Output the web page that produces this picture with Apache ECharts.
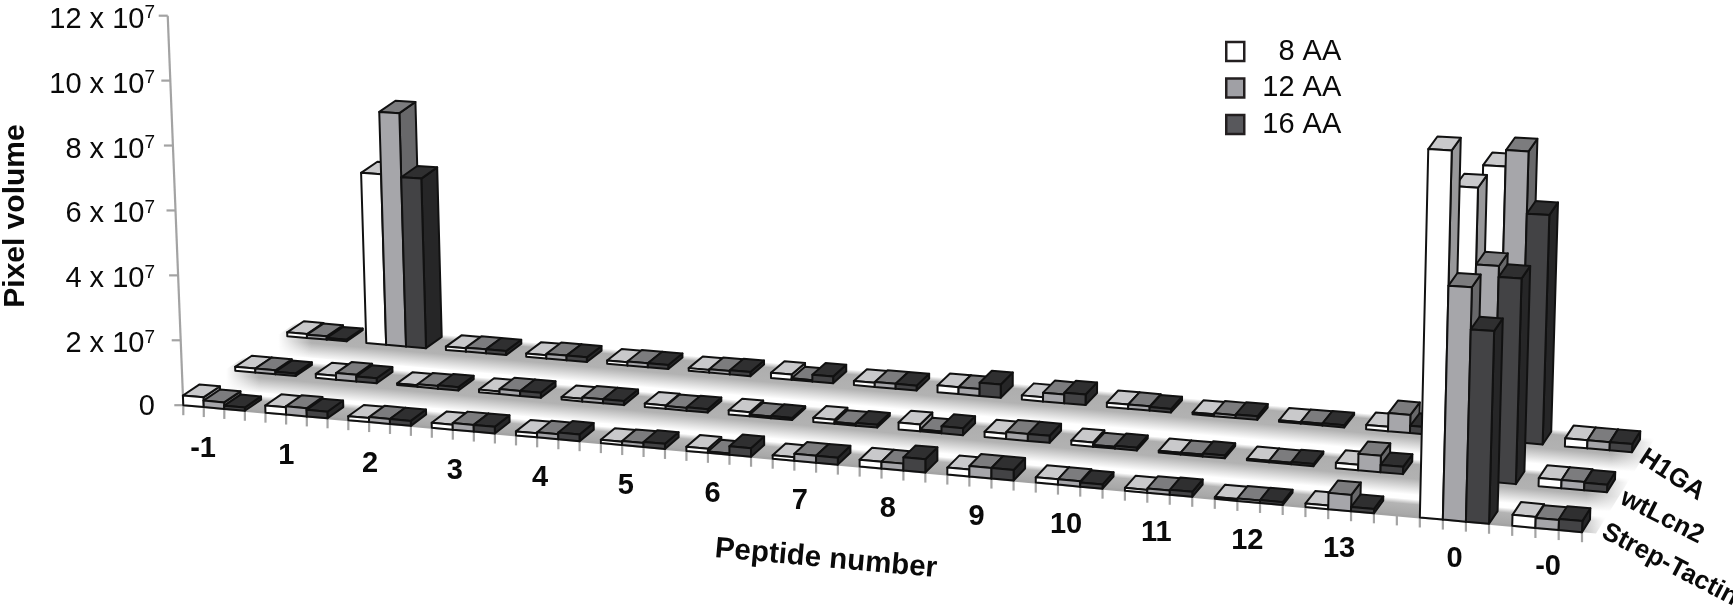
<!DOCTYPE html>
<html><head><meta charset="utf-8">
<style>html,body{margin:0;padding:0;background:#fff}#c{width:1733px;height:606px}</style>
<script src="https://cdn.jsdelivr.net/npm/echarts@6/dist/echarts.min.js"></script>
</head><body><div id="c"></div>
<script>
// ---- data (values in pixel volume, unit 1e7) ----
const categories = ['-1','1','2','3','4','5','6','7','8','9','10','11','12','13','0','-0'];
const rowNames = ['Strep-Tactin','wtLcn2','H1GA'];
const yTicks = [0,2,4,6,8,10,12];
const strep8  = [.30,.22,.12,.15,.12,.10,.12,.10,.20,.20,.15,.08,.05,.10,10.1,.30];
const strep12 = [.20,.25,.15,.20,.15,.12,.04,.20,.20,.30,.15,.12,.07,.45,6.4,.27];
const strep16 = [.10,.20,.15,.20,.20,.15,.25,.20,.38,.30,.12,.14,.08,.12,5.25,.30];
const wt8  = [.12,.12,.05,.08,.08,.10,.12,.12,.20,.15,.12,.05,.04,.15,8.0,.22];
const wt12 = [.12,.20,.08,.15,.12,.08,.05,.05,.05,.20,.05,.05,.04,.45,5.9,.22];
const wt16 = [.08,.15,.10,.15,.12,.10,.06,.08,.20,.20,.08,.08,.06,.20,5.6,.20];
const h18  = [.12,5.2,.10,.10,.10,.08,.15,.12,.20,.12,.12,.05,.04,.12,7.5,.22];
const h112 = [.10,7.1,.12,.14,.12,.10,.04,.14,.20,.25,.12,.08,.05,.50,7.95,.22];
const h116 = [.05,5.15,.12,.14,.12,.12,.20,.14,.38,.30,.10,.10,.06,.20,6.25,.22];
const aaNames = ['8 AA','12 AA','16 AA'];
const byAA = [[strep8,wt8,h18],[strep12,wt12,h112],[strep16,wt16,h116]];

// ---- styles ----
const FRONT=['#ffffff','#a6a6aa','#434345'], TOP=['#c9c9cb','#7c7c7e','#2f2f30'], SIDE=['#98989a','#68686a','#262627'];
const EDGE='#111111', AXIS='#a3a3a3', FONT='"Liberation Sans",Arial,sans-serif';
const R=1.068, BAR_D=0.32, SLOPE=0.0908, TMAX=64;
const catStart=i=>i*4+(i>13?1:0);
const persp=t=>{const u=t/TMAX;return TMAX*u/(u+(1-u)*R);};
function pt(api,t,d,v){
  const fx=persp(t),c0=api.coord([fx,0]),cv=api.coord([fx,v]),o=api.coord([0,0]);
  const g=fx/TMAX;
  let X=c0[0],Y=c0[1]+SLOPE*(X-o[0]);
  X+=d*(52-27*g);Y+=d*(-34.5-5.5*g);
  const h=(c0[1]-cv[1])*(1+.14*g),lean=-0.04+(X-o[0])*0.0000509;
  return [X+lean*h,Y-h];
}
const poly=(points,fill,z2,extra)=>({type:'polygon',z2,shape:{points},style:Object.assign({fill,stroke:EDGE,lineWidth:2,lineJoin:'round'},extra||{})});
const line=(a,b,z2,c,w)=>({type:'line',z2,shape:{x1:a[0],y1:a[1],x2:b[0],y2:b[1]},style:{stroke:c||AXIS,lineWidth:w||2.2}});
const txt=(text,x,y,z2,o)=>({type:'text',z2,x,y,rotation:(o&&o.rot)||0,style:Object.assign({text,fill:'#0a0a0a',font:'26px '+FONT,align:'center',verticalAlign:'middle'},o&&o.style||{})});

function barRender(aa){return function(p,api){
  const row=api.value(0),cat=api.value(1),v=api.value(2),t=catStart(cat)+aa;
  const z=(2-row)*10000+t*10+100;
  const A=pt(api,t,0+row,0),B=pt(api,t+1,row,0),C=pt(api,t+1,row,v),D=pt(api,t,row,v);
  const E=pt(api,t+1,row+BAR_D,v),F=pt(api,t,row+BAR_D,v),G=pt(api,t+1,row+BAR_D,0);
  return {type:'group',children:[
    poly([B,G,E,C],SIDE[aa],z),
    poly([D,C,E,F],TOP[aa],z+1),
    poly([A,B,C,D],FRONT[aa],z+2)
  ]};
};}
function frameRender(p,api){
  const ch=[];
  // floor shadow bands with soft ends
  [2,1,0].forEach(row=>{
    const top=row===0?.42:.38, bot=row===0?0:-.5, t0=row===0?0:-0.5, t1=64.6;
    const a=pt(api,t0,row+top,0),b=pt(api,t1,row+top,0),c=pt(api,t1,row+bot,0),d=pt(api,t0,row+bot,0);
    const m1=pt(api,30,row+top,0),m2=pt(api,30,row+bot,0);
    const s=(b[1]-a[1])/(b[0]-a[0]),nl=Math.hypot(s,1),nx=-s/nl,ny=1/nl;
    const L=(m2[0]-m1[0])*nx+(m2[1]-m1[1])*ny;
    const stops=row===0?[{offset:0,color:'#ffffff'},{offset:.3,color:'#b4b4b4'},{offset:1,color:'#a6a6a6'}]
      :[{offset:0,color:'#ffffff'},{offset:.14,color:'#aeaeae'},{offset:.55,color:'#b2b2b2'},{offset:1,color:'#ffffff'}];
    const base=(2-row)*10000;
    ch.push({type:'polygon',z2:base,shape:{points:[a,b,c,d]},
      style:{fill:new echarts.graphic.LinearGradient(m1[0],m1[1],m1[0]+nx*L,m1[1]+ny*L,stops,true)}});
    // soft fade at both ends of the band
    const fade=(xa,xb)=>new echarts.graphic.LinearGradient(xa,0,xb,0,[{offset:0,color:'rgba(255,255,255,1)'},{offset:1,color:'rgba(255,255,255,0)'}],true);
    const lx=Math.min(a[0],d[0]),rx=Math.max(a[0],d[0])+14;
    const bx=Math.min(b[0],c[0])-22,ex=Math.max(b[0],c[0]);
    if(row!==0) ch.push({type:'polygon',z2:base+1,shape:{points:[[lx-4,a[1]-6],[rx,a[1]-6],[rx,d[1]+6],[lx-4,d[1]+6]]},style:{fill:fade(lx+(rx-lx)*0.45,rx)}});
    ch.push({type:'polygon',z2:base+1,shape:{points:[[bx,b[1]-6],[ex+4,b[1]-6],[ex+4,c[1]+6],[bx,c[1]+6]]},style:{fill:fade(ex,bx)}});
  });
  // floor line and ticks
  ch.push(line(pt(api,0,0,0),pt(api,TMAX,0,0),20050));
  for(let t=0;t<=TMAX;t++){const a=pt(api,t,0,0);ch.push(line(a,[a[0],a[1]+10],20050));}
  // value axis
  ch.push(line(pt(api,0,0,0),pt(api,0,0,12e7),20050));
  yTicks.forEach(v=>{
    const a=pt(api,0,0,v*1e7);
    ch.push(line(a,[a[0]-9,a[1]],20050));
    const label=v===0?'{m|0}':'{m|'+v+' x 10}{s|7}';
    ch.push(txt(label,155,a[1]+(v===0?2:4),40000,{style:{align:'right',rich:{
      m:{font:'29px '+FONT,fill:'#0a0a0a'},
      s:{font:'19px '+FONT,fill:'#0a0a0a',padding:[0,0,13,0]}}}}));
  });
  // category labels
  categories.forEach((c,i)=>{
    const tc=catStart(i)+1.5,a=pt(api,tc,0,0),g=i/15;
    ch.push(txt(c,a[0]-11+12*g,a[1]+41-3*g,40000,{style:{font:'bold 29px '+FONT}}));
  });
  // titles
  ch.push(txt('Pixel volume',16,216,40000,{rot:Math.PI/2,style:{font:'bold 30px '+FONT}}));
  ch.push(txt('Peptide number',826,559,40000,{rot:-0.09,style:{font:'bold 29.5px '+FONT}}));
  const rowLab=[[1670,565,.48],[1662,517,.47],[1672,475,.58]];
  rowNames.forEach((n,i)=>ch.push(txt(n,rowLab[i][0],rowLab[i][1],40000,{rot:-rowLab[i][2],style:{font:'bold 26px '+FONT}})));
  return {type:'group',children:ch};
}
const series=[{type:'custom',name:'frame',coordinateSystem:'cartesian2d',silent:true,animation:false,data:[[0,0]],renderItem:frameRender}];
aaNames.forEach((n,aa)=>{
  const data=[];
  byAA[aa].forEach((vals,row)=>vals.forEach((v,cat)=>data.push([row,cat,v*1e7])));
  series.push({type:'custom',name:n,coordinateSystem:'cartesian2d',animation:false,silent:true,
    encode:{x:1,y:2},itemStyle:{color:['#ffffff','#a0a0a5','#58585c'][aa]},data,renderItem:barRender(aa)});
});
const chart=echarts.init(document.getElementById('c'),null,{renderer:'canvas'});
chart.setOption({
  backgroundColor:'#fff',animation:false,
  grid:{left:183.3,top:15.7,width:1398.7,height:389.5},
  xAxis:{type:'value',min:0,max:TMAX,show:false},
  yAxis:{type:'value',min:0,max:12e7,show:false},
  legend:{orient:'vertical',left:1225,top:37,padding:0,itemWidth:18,itemHeight:19,itemGap:7.5,selectedMode:false,
    data:aaNames.map((n,i)=>({name:n,icon:'rect',itemStyle:{color:['#ffffff','#a0a0a5','#58585c'][i],borderColor:'#231f20',borderWidth:2.5}})),
    formatter:n=>(n.length<5?'\u2007':'')+n,
    textStyle:{fontFamily:'Liberation Sans',fontSize:29,lineHeight:19,color:'#0a0a0a',padding:[7.5,0,0,13]}},
  series
});
</script></body></html>
